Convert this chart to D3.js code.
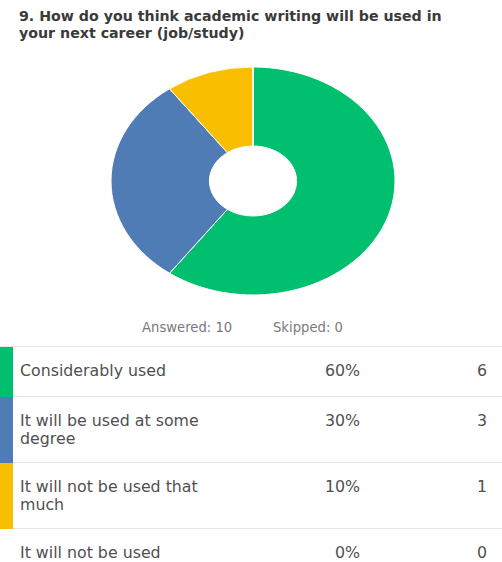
<!DOCTYPE html>
<html>
<head>
<meta charset="utf-8">
<script src="https://cdn.jsdelivr.net/npm/d3@7"></script>
<style>
  html, body { margin: 0; padding: 0; background: #fff; }
  svg { display: block; }
</style>
</head>
<body>
<svg id="chart" width="502" height="562"></svg>
<script>
// Survey question 9: answer choices, share of responses and counts
const questionLines = [
  "9. How do you think academic writing will be used in",
  "your next career (job/study)"
];
const categories = [
  "Considerably used",
  "It will be used at some degree",
  "It will not be used that much",
  "It will not be used"
];
const percents = [60, 30, 10, 0];
const counts = [6, 3, 1, 0];
const colors = ["#00BF6F", "#507CB6", "#F9BE00", "#D25F90"];
const answered = 10;
const skipped = 0;

const svg = d3.select("#chart");

// Question heading
svg.append("text")
  .attr("font-family", "'DejaVu Sans', sans-serif")
  .attr("font-weight", 700)
  .attr("font-size", 14.2)
  .attr("fill", "#3a3a3a")
  .selectAll("tspan")
  .data(questionLines)
  .join("tspan")
  .attr("x", 19)
  .attr("y", (d, i) => 21 + i * 17)
  .text(d => d);

// Donut: drawn as a circle, then stretched horizontally into an ellipse
const ry = 114, rx = 142;
const pie = d3.pie().sort(null).value(d => d);
const arc = d3.arc().innerRadius(ry * 0.307).outerRadius(ry);

const donut = svg.append("g")
  .attr("transform", `translate(253,181) scale(${rx / ry},1)`);

donut.selectAll("path")
  .data(pie(percents))
  .join("path")
  .attr("d", arc)
  .attr("fill", (d, i) => colors[i])
  .attr("stroke", "#fff")
  .attr("stroke-width", 1)
  .attr("vector-effect", "non-scaling-stroke");

// Response summary
const summary = svg.append("g")
  .attr("font-family", "'DejaVu Sans', sans-serif")
  .attr("font-size", 13.2)
  .attr("fill", "#7a7a7a");
summary.append("text").attr("x", 142).attr("y", 332).text(`Answered: ${answered}`);
summary.append("text").attr("x", 273).attr("y", 332).text(`Skipped: ${skipped}`);

// Table of answer choices
const rowTop = [347, 397, 463, 529];
const rowBottom = [397, 463, 529, 562];
const y = d3.scaleOrdinal().domain(categories).range(rowTop);

const table = svg.append("g");

table.selectAll("line.sep")
  .data(rowTop)
  .join("line")
  .attr("class", "sep")
  .attr("x1", 0).attr("x2", 502)
  .attr("y1", d => d - 0.5).attr("y2", d => d - 0.5)
  .attr("stroke", "#e6e6e6")
  .attr("stroke-width", 1);

table.selectAll("rect.bar")
  .data(categories.filter((c, i) => counts[i] > 0))
  .join("rect")
  .attr("class", "bar")
  .attr("x", 0)
  .attr("y", d => y(d))
  .attr("width", 13)
  .attr("height", d => rowBottom[categories.indexOf(d)] - y(d))
  .attr("fill", d => colors[categories.indexOf(d)]);

const rows = table.selectAll("g.row")
  .data(categories)
  .join("g")
  .attr("class", "row")
  .attr("font-family", "'DejaVu Sans', sans-serif")
  .attr("font-size", 15.8)
  .attr("fill", "#505050");

// Choice label, wrapped to the label column width
rows.each(function(d) {
  const g = d3.select(this);
  const t = g.append("text").attr("x", 20);
  const words = d.split(" ");
  let line = [];
  let lineNo = 0;
  let tspan = t.append("tspan").attr("x", 20).attr("y", y(d) + 29);
  words.forEach(w => {
    line.push(w);
    tspan.text(line.join(" "));
    if (tspan.node().getComputedTextLength() > 205 && line.length > 1) {
      line.pop();
      tspan.text(line.join(" "));
      line = [w];
      lineNo++;
      tspan = t.append("tspan").attr("x", 20).attr("y", y(d) + 29 + lineNo * 17.5).text(w);
    }
  });
});

rows.append("text")
  .attr("x", 360)
  .attr("y", d => y(d) + 29)
  .attr("text-anchor", "end")
  .text((d, i) => `${percents[i]}%`);

rows.append("text")
  .attr("x", 487)
  .attr("y", d => y(d) + 29)
  .attr("text-anchor", "end")
  .text((d, i) => counts[i]);
</script>
</body>
</html>
